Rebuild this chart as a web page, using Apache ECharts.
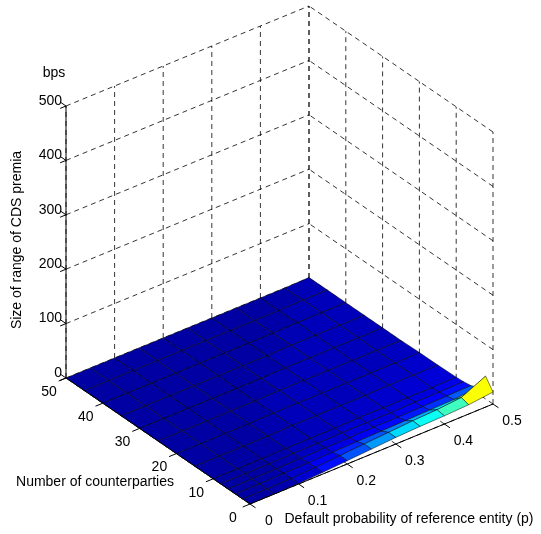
<!DOCTYPE html>
<html>
<head>
<meta charset="utf-8">
<script src="https://cdn.jsdelivr.net/npm/echarts@6/dist/echarts.min.js"></script>
<style>html,body{margin:0;background:#fff}#main{width:541px;height:534px}</style>
</head>
<body>
<div id="main"></div>
<script>
// data: size of range of CDS premia (bps)
var pValues = [0, 0.05, 0.1, 0.15, 0.2, 0.25, 0.3, 0.35, 0.4, 0.45, 0.5];
var nValues = [0, 2, 4, 6, 8, 10, 15, 20, 25, 30, 35, 40, 45, 50];
var zValues = [
    [0, 0, 1, 3, 6, 9, 12, 14, 15, 17, 22],
    [0, 0, 1, 3, 6, 9, 12, 15, 17, 21, 42],
    [0, 0, 1, 2, 3, 4, 5, 6, 7, 8, 12],
    [0, 0, 0, 1, 2, 2, 3, 3, 4, 5, 6],
    [0, 0, 0, 1, 1, 2, 2, 2, 3, 3, 4],
    [0, 0, 0, 1, 1, 1, 2, 2, 2, 2, 3],
    [0, 0, 0, 0, 1, 1, 1, 1, 2, 2, 2],
    [0, 0, 0, 0, 1, 1, 1, 1, 1, 1, 2],
    [0, 0, 0, 0, 0, 1, 1, 1, 1, 1, 1],
    [0, 0, 0, 0, 0, 0, 1, 1, 1, 1, 1],
    [0, 0, 0, 0, 0, 0, 0, 1, 1, 1, 1],
    [0, 0, 0, 0, 0, 0, 0, 0, 1, 1, 1],
    [0, 0, 0, 0, 0, 0, 0, 0, 0, 1, 1],
    [0, 0, 0, 0, 0, 0, 0, 0, 0, 0, 1]
];
var pTicks = [0, 0.1, 0.2, 0.3, 0.4, 0.5];
var nTicks = [0, 10, 20, 30, 40, 50];
var zTicks = [0, 100, 200, 300, 400, 500];

// view projection (screen units of a hidden 541x534 value grid)
var origin = [250, 504];
function project(p, n, z) {
    return [origin[0] + p / 0.5 * 243 - n / 50 * 184,
            origin[1] - p / 0.5 * 100 - n / 50 * 126 - z / 500 * 272];
}
function jet(v) {
    v = Math.max(0, Math.min(1, v));
    function c(x) { return Math.round(255 * Math.max(0, Math.min(1, 1.5 - Math.abs(4 * v - x)))); }
    return 'rgb(' + c(3) + ',' + c(2) + ',' + c(1) + ')';
}
var cMin = -1.5, cMax = 42;

// quads, back to front
var quads = [];
for (var i = 0; i < nValues.length - 1; i++) {
    for (var j = 0; j < pValues.length - 1; j++) {
        quads.push([i, j, pValues[j] / 0.5 + nValues[i] / 50]);
    }
}
quads.sort(function (a, b) { return b[2] - a[2]; });

// grid segments [p1,n1,z1,p2,n2,z2]
var dashed = [], solid = [];
pTicks.forEach(function (p) {
    dashed.push([p, 50, 0, p, 50, 500]);
    dashed.push([p, 0, 0, p, 50, 0]);
    solid.push([p, 0, 0, p, -1.5, 0]);
});
nTicks.forEach(function (n) {
    dashed.push([0.5, n, 0, 0.5, n, 500]);
    dashed.push([0, n, 0, 0.5, n, 0]);
    solid.push([0, n, 0, -0.015, n, 0]);
});
zTicks.forEach(function (z) {
    if (z > 0) {
        dashed.push([0, 50, z, 0.5, 50, z]);
        dashed.push([0.5, 0, z, 0.5, 50, z]);
    }
    solid.push([0, 50, z, -0.012, 50, z]);
    solid.push([0, 50, z, 0, 51.5, z]);
});
solid.push([0, 50, 0, 0, 50, 500]);
solid.push([0, 0, 0, 0.5, 0, 0]);
solid.push([0, 0, 0, 0, 50, 0]);

var labels = [];
pTicks.forEach(function (p) { var q = project(p, 0, 0); labels.push([q[0] + 19, q[1] + 17, String(p), 0]); });
nTicks.forEach(function (n) { var q = project(0, n, 0); labels.push([q[0] - 17, q[1] + 14, String(n), 0]); });
zTicks.forEach(function (z) { var q = project(0, 50, z); labels.push([q[0] - 4, q[1] - 5, String(z), 1]); });
labels.push([54, 73, 'bps', 0]);
labels.push([95, 482, 'Number of counterparties', 0]);
labels.push([409, 519, 'Default probability of reference entity (p)', 0]);
labels.push([17, 240, 'Size of range of CDS premia', 2]);

function segSeries(segs, dash, zl) {
    return {
        type: 'custom', z: zl, silent: true,
        data: segs.map(function (s, k) { return k; }),
        renderItem: function (params, api) {
            var s = segs[params.dataIndex];
            var a = api.coord(project(s[0], s[1], s[2]));
            var b = api.coord(project(s[3], s[4], s[5]));
            return {
                type: 'line',
                shape: { x1: a[0], y1: a[1], x2: b[0], y2: b[1] },
                style: { stroke: '#000', lineWidth: dash ? 0.8 : 1, lineDash: dash ? [5, 4] : null }
            };
        }
    };
}

var myChart = echarts.init(document.getElementById('main'));
var option = {
    animation: false,
    grid: { left: 0, right: 0, top: 0, bottom: 0 },
    xAxis: { type: 'value', min: 0, max: 541, show: false },
    yAxis: { type: 'value', min: 0, max: 534, inverse: true, show: false },
    series: [
        segSeries(dashed, true, 1),
        {
            type: 'custom', z: 2, silent: true,
            data: quads.map(function (q, k) { return k; }),
            renderItem: function (params, api) {
                var q = quads[params.dataIndex], i = q[0], j = q[1];
                var corners = [[i, j], [i, j + 1], [i + 1, j + 1], [i + 1, j]];
                var pts = corners.map(function (c) {
                    return api.coord(project(pValues[c[1]], nValues[c[0]], zValues[c[0]][c[1]]));
                });
                var zm = (zValues[i][j] + zValues[i][j + 1] + zValues[i + 1][j] + zValues[i + 1][j + 1]) / 4;
                return {
                    type: 'polygon',
                    shape: { points: pts },
                    style: { fill: jet((zm - cMin) / (cMax - cMin)), stroke: '#000', lineWidth: 0.5 }
                };
            }
        },
        segSeries(solid, false, 3),
        {
            type: 'custom', z: 4, silent: true,
            data: labels.map(function (l, k) { return k; }),
            renderItem: function (params, api) {
                var l = labels[params.dataIndex];
                var c = api.coord([l[0], l[1]]);
                return {
                    type: 'text', x: c[0], y: c[1],
                    rotation: l[3] === 2 ? Math.PI / 2 : 0,
                    style: {
                        text: l[2], fill: '#000', font: '14px "Liberation Sans", Arial, sans-serif',
                        align: l[3] === 1 ? 'right' : 'center', verticalAlign: 'middle'
                    }
                };
            }
        }
    ]
};
myChart.setOption(option);
window.addEventListener('resize', function () { myChart.resize(); });
</script>
</body>
</html>
